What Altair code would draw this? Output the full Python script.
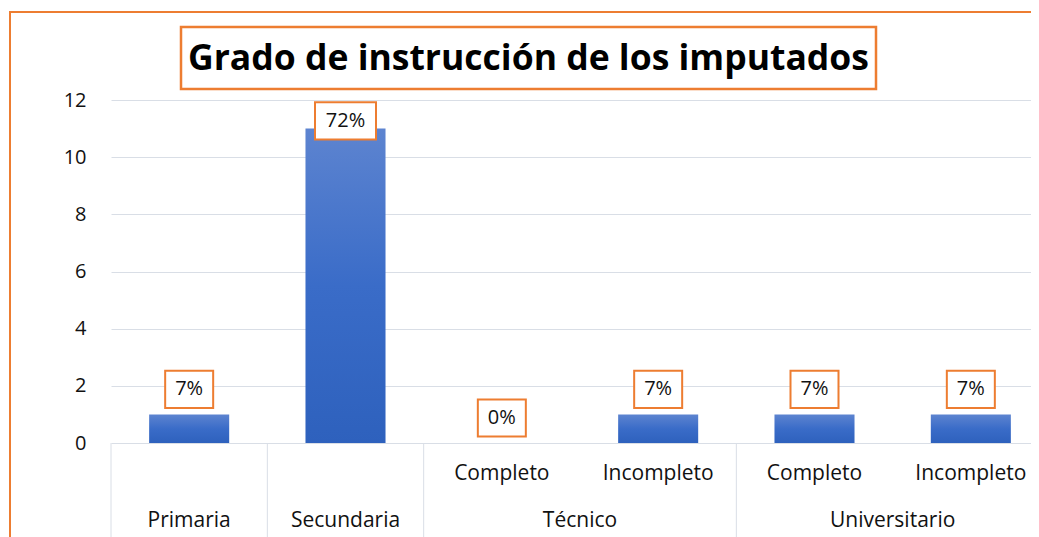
import altair as alt
import pandas as pd

titulo = "Grado de instrucción de los imputados"
grupos = ["Primaria", "Secundaria", "Técnico", "Técnico", "Universitario", "Universitario"]
subniveles = ["", "", "Completo", "Incompleto", "Completo", "Incompleto"]
cantidades = [1, 11, 0, 1, 1, 1]
porcentajes = ["7%", "72%", "0%", "7%", "7%", "7%"]
y_ticks = [0, 2, 4, 6, 8, 10, 12]

claves = [(g + " " + s).strip() for g, s in zip(grupos, subniveles)]
df = pd.DataFrame({"clave": claves, "grupo": grupos, "sub": subniveles,
                   "valor": cantidades, "pct": porcentajes})
deco = pd.DataFrame({"t": [titulo]})

ORANGE = "#ed7d31"
FONT = "Open Sans"
TXT = "#111111"
GRID = "#d9dee6"

W, H = 920, 343
RANGE = 938
P_IN = 0.488
STEP = RANGE / 6
HALF_GAP = STEP * P_IN / 2

x_scale = alt.Scale(domain=claves, range=[0, RANGE], paddingInner=P_IN, paddingOuter=P_IN / 2)
y_scale = alt.Scale(domain=[0, 12], nice=False)
y_axis = alt.Axis(values=y_ticks, grid=True, gridColor=GRID, gridWidth=1, domain=False,
                  ticks=False, labelPadding=25, labelFont=FONT, labelFontSize=20,
                  labelColor=TXT, title=None)


def xe(bp=None):
    if bp is None:
        return alt.X("clave:N", sort=claves, scale=x_scale, axis=None)
    return alt.X("clave:N", sort=claves, scale=x_scale, axis=None, bandPosition=bp)


def ye(field):
    return alt.Y(field, scale=y_scale, axis=y_axis, title=None)


base = alt.Chart(df)

border = alt.Chart(deco).mark_rect(fillOpacity=0, stroke=ORANGE, strokeWidth=2).encode(
    x=alt.value(-101), x2=alt.value(1200), y=alt.value(-88), y2=alt.value(700))

title_box = alt.Chart(deco).mark_rect(fillOpacity=0, stroke=ORANGE, strokeWidth=2.5).encode(
    x=alt.value(70), x2=alt.value(765), y=alt.value(-73), y2=alt.value(-11))

title_txt = alt.Chart(deco).mark_text(font=FONT, fontSize=35.5, fontWeight="bold", color="#000000",
                                      baseline="middle", align="center").encode(
    x=alt.value(417.5), y=alt.value(-41), text="t:N")

bars = base.mark_bar(color=alt.Gradient(
    gradient="linear", x1=0, x2=0, y1=0, y2=1,
    stops=[alt.GradientStop(color="#5d84d0", offset=0),
           alt.GradientStop(color="#3a6cc8", offset=0.5),
           alt.GradientStop(color="#2e61bd", offset=1)])).encode(
    x=xe(), y=ye("valor:Q"))

seps = base.transform_filter("datum.sub != 'Incompleto'").mark_rule(
    color=GRID, strokeWidth=1, xOffset=-HALF_GAP).encode(
    x=xe(0), y=alt.value(H), y2=alt.value(H + 120))

lab = base.transform_calculate(ly="min(datum.valor + 0.875, 11.27)") \
    .transform_calculate(ly0="datum.ly - 0.65", ly1="datum.ly + 0.65") \
    .transform_calculate(bw="22 + 13 * length(datum.pct)")

boxes = lab.mark_bar(fill="white", stroke=ORANGE, strokeWidth=2).encode(
    x=xe(), y=ye("ly0:Q"), y2="ly1:Q", size=alt.Size("bw:Q", scale=None, legend=None))

pct_txt = lab.mark_text(font=FONT, fontSize=20, color=TXT, baseline="middle").encode(
    x=xe(), y=ye("ly:Q"), text="pct:N")

sub_txt = base.transform_filter("datum.sub != ''").mark_text(
    font=FONT, fontSize=21, color=TXT, baseline="middle").encode(
    x=xe(), y=alt.value(374), text="sub:N")

grp1 = base.transform_filter("datum.sub == ''").mark_text(
    font=FONT, fontSize=21, color=TXT, baseline="middle").encode(
    x=xe(), y=alt.value(421), text="grupo:N")

grp2 = base.transform_filter("datum.sub == 'Incompleto'").mark_text(
    font=FONT, fontSize=21, color=TXT, baseline="middle", xOffset=-HALF_GAP).encode(
    x=xe(0), y=alt.value(421), text="grupo:N")

chart = alt.layer(border, title_box, title_txt, bars, seps, boxes, pct_txt,
                  sub_txt, grp1, grp2).properties(
    width=W, height=H,
    autosize=alt.AutoSizeParams(type="none"),
    padding={"left": 103, "top": 92, "right": 0, "bottom": 94},
    background="white",
).configure_view(stroke=None)

chart.save("out.html", embed_options={"renderer": "svg", "actions": False})
